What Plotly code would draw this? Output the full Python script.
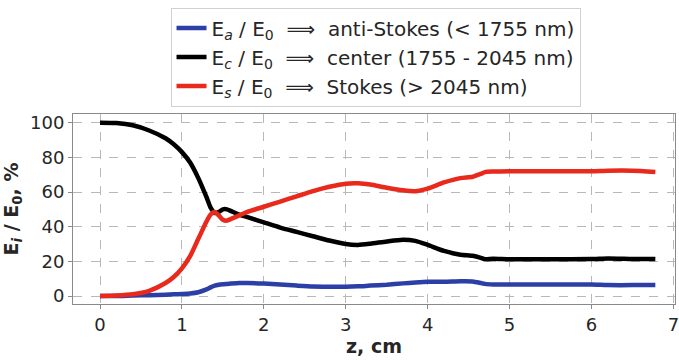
import plotly.graph_objects as go

z = [0, 0.2, 0.4, 0.6, 0.8, 0.9, 1.0, 1.1, 1.2, 1.3, 1.35, 1.4, 1.45, 1.5, 1.55, 1.6, 1.7, 1.8,
     2.0, 2.2, 2.4, 2.6, 2.8, 3.0, 3.15, 3.3, 3.5, 3.7, 3.85, 4.0, 4.2, 4.4, 4.55, 4.65, 4.7, 4.8,
     5.0, 5.5, 6.0, 6.2, 6.5, 6.78]

e_center = [100, 99.8, 98.5, 95.5, 91, 87.5, 83, 77, 68, 57, 51, 48, 48.5, 50, 50, 49, 47, 45.5,
            42.5, 39.5, 37, 34.5, 32, 30, 29.5, 30.2, 31.5, 32.5, 31.8, 29.5, 26, 23.8, 23.2, 22, 21.2, 21.5,
            21.2, 21.2, 21.3, 21.7, 21.4, 21.3]

e_stokes = [0, 0.3, 1, 3, 7.5, 11, 16, 23, 33, 43, 47, 48.5, 46.5, 44, 43.5, 44.5, 46.5, 48.5,
            51.5, 54.5, 57.5, 60.5, 63, 64.8, 65, 64.3, 62.5, 61, 60.5, 62, 65.5, 68, 68.8, 70.5, 71.5, 71.8,
            72, 72, 72, 72.3, 72.3, 71.6]

e_anti = [0, 0, 0.3, 0.5, 0.8, 1, 1.2, 1.5, 2.2, 3.8, 5, 6, 6.5, 6.8, 7, 7.2, 7.5, 7.5,
          7.2, 6.6, 6, 5.5, 5.4, 5.4, 5.6, 6, 6.5, 7.3, 7.8, 8.2, 8.2, 8.5, 8.4, 7.5, 7, 6.7,
          6.6, 6.6, 6.6, 6.3, 6.3, 6.3]

x_ticks = [0, 1, 2, 3, 4, 5, 6, 7]
y_ticks = [0, 20, 40, 60, 80, 100]

names = [
    "E<sub><i>a</i></sub> / E<sub>0</sub>  \u27f9  anti-Stokes (&lt; 1755 nm)",
    "E<sub><i>c</i></sub> / E<sub>0</sub>  \u27f9  center (1755 - 2045 nm)",
    "E<sub><i>s</i></sub> / E<sub>0</sub>  \u27f9  Stokes (&gt; 2045 nm)",
]
series = [e_anti, e_center, e_stokes]
colors = ["#2c3fa6", "#000000", "#e8291c"]

fig = go.Figure()
for i, (nm, ys, c) in enumerate(zip(names, series, colors)):
    fig.add_trace(go.Scatter(
        x=z, y=ys, name=nm, mode="lines",
        line=dict(color=c, width=4.5, shape="spline", smoothing=0.6),
        legendgroup=f"g{i}",
    ))

font_family = "DejaVu Sans"
fig.update_layout(
    width=679, height=360,
    margin=dict(l=73, r=0, t=114, b=56),
    plot_bgcolor="white", paper_bgcolor="white",
    font=dict(family=font_family, size=16, color="#262626"),
    showlegend=True,
    legend=dict(
        x=0.162, y=1.56, xanchor="left", yanchor="top",
        bgcolor="white", bordercolor="#d0d0d0", borderwidth=1,
        font=dict(family=font_family, size=20, color="#262626"),
        tracegroupgap=0,
    ),
    xaxis=dict(
        range=[-0.33, 7.02], tickvals=x_ticks, ticklabeloverflow="allow",
        showgrid=True, gridcolor="#b8b8b8", griddash="dash", gridwidth=1,
        zeroline=False, showline=True, linecolor="#8a8a8a", linewidth=1, mirror=True,
        ticks="outside", ticklen=4, tickcolor="#8a8a8a",
        tickfont=dict(size=18, family=font_family, color="#262626"),
        title=dict(text="<b>z, cm</b>", font=dict(size=19, family=font_family, color="#262626"), standoff=4),
    ),
    yaxis=dict(
        range=[-4.6, 105], tickvals=y_ticks,
        showgrid=True, gridcolor="#b8b8b8", griddash="dash", gridwidth=1,
        zeroline=False, showline=True, linecolor="#8a8a8a", linewidth=1, mirror=True,
        ticks="outside", ticklen=4, tickcolor="#8a8a8a",
        tickfont=dict(size=18, family=font_family, color="#262626"),
        title=dict(text="<b>E<sub><i>i</i></sub> / E<sub>0</sub>, %</b>",
                   font=dict(size=19, family=font_family, color="#262626"), standoff=6),
    ),
)

fig.write_html("out.html")
